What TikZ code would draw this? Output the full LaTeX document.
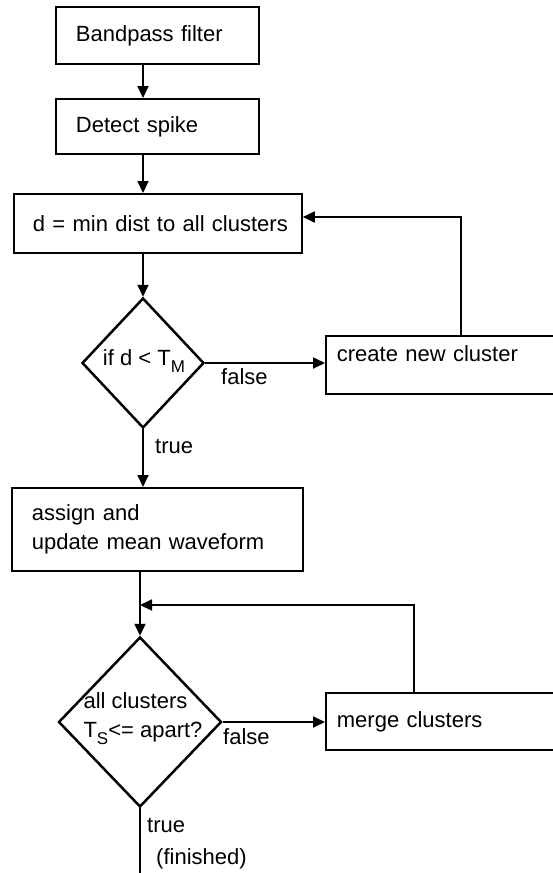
\documentclass[tikz,border=0pt]{standalone}
\usepackage{fontspec}
\setmainfont{Liberation Sans}
\usetikzlibrary{
  arrows.meta,
  shapes.geometric
}
\newcommand{\lowsub}[1]{\raisebox{-7pt}{\fontsize{17}{17}\selectfont #1}}

\begin{document}
\begin{tikzpicture}[
  x=1pt,
  y=-1pt,
  font=\fontsize{22}{29}\selectfont,
  >={Triangle[length=12pt,width=11pt]},
  stage/.style={
    draw,
    line width=1.8pt,
    anchor=north west,
    align=left,
    inner xsep=20pt
  },
  sidestage/.style={stage,inner xsep=11pt,text width=218pt},
  decision/.style={diamond,draw,line width=2.5pt,inner sep=0pt},
  question/.style={align=left,inner sep=0pt},
  branch/.style={anchor=base west,inner sep=0pt},
  flow/.style={->,line width=1.8pt}
]

\useasboundingbox (0,0) rectangle (553,873);
\clip (0,0) rectangle (553,873);

\node[stage,text width=163pt,minimum height=57pt] (bandpass) at (55,6)
  {Bandpass filter};
\node[stage,text width=163pt,minimum height=55pt] (detect) at (55,98)
  {Detect spike};
\node[stage,text width=250pt,inner xsep=19pt,minimum height=59pt] (dist) at (13,193)
  {\mbox{d = min dist to all clusters}};
\node[decision,minimum width=122pt,minimum height=130pt] (test1) at (143,363) {};
\node[question] (test1q) at (144,361) {if d < T\lowsub{M}};
\node[sidestage,minimum height=58pt,text depth=22pt] (newcl) at (325,335)
  {create new cluster};
\node[stage,text width=251pt,minimum height=83pt] (assign) at (11,487)
  {assign and\\update mean waveform};
\node[decision,minimum width=163pt,minimum height=170pt] (test2) at (140,722) {};
\node[question] (test2q) at (143,719) {all clusters\\T\lowsub{S}<= apart?};
\node[sidestage,minimum height=57pt] (merge) at (325,692)
  {merge clusters};

\node[branch] (falsea) at (221,384) {false};
\node[branch] (truea) at (155,453) {true};
\node[branch] (falseb) at (223,744) {false};
\node[branch] (trueb) at (147,832) {true};
\node[branch] (finished) at (156,864) {(finished)};

\coordinate (loopa) at (461,217);
\coordinate (loopb) at (414,605);
\coordinate (exit) at (140,873);

\draw[flow] (bandpass.south -| test1) -- (detect.north -| test1);
\draw[flow] (detect.south -| test1) -- (dist.north -| test1);
\draw[flow] (dist.south -| test1) -- (test1.north);
\draw[flow] (test1.east) -- (test1.east -| newcl.west);
\draw[flow] (newcl.north -| loopa) -- (loopa) -- (loopa -| dist.east);
\draw[flow] (test1.south) -- (assign.north -| test1);
\draw[flow] (assign.south -| test2) -- (test2.north);
\draw[flow] (test2.east) -- (test2.east -| merge.west);
\draw[flow] (merge.north -| loopb) -- (loopb) -- (loopb -| test2);
\draw[line width=1.8pt] (test2.south) -- (exit);
\end{tikzpicture}
\end{document}
